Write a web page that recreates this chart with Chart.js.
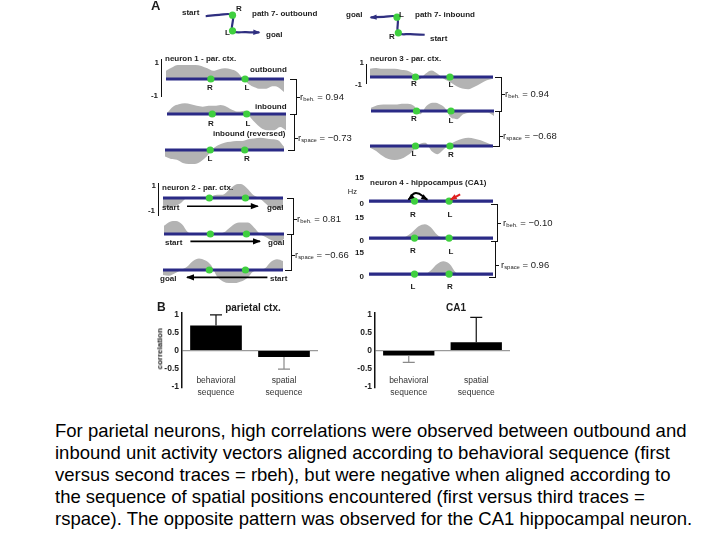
<!DOCTYPE html>
<html>
<head>
<meta charset="utf-8">
<script src="https://cdn.jsdelivr.net/npm/chart.js@4.4.1/dist/chart.umd.min.js"></script>
<style>
  html, body { margin: 0; padding: 0; background: #fff; }
  #fig { position: relative; width: 720px; height: 540px; overflow: hidden; font-family: "Liberation Sans", Arial, sans-serif; }
  #fig canvas { position: absolute; }
  .t { position: absolute; white-space: nowrap; color: #1c1c1c; line-height: 1.2; }
  .t sub { font-size: 0.62em; vertical-align: -0.2em; }
  .ln { position: absolute; }
  #caption { position: absolute; left: 55px; top: 420px; font-size: 18.5px; line-height: 22px; color: #000; white-space: nowrap; }
</style>
</head>
<body>
<div id="fig"></div>
<script>
// position along the track, % of path length
const trackPos = [0, 5, 10, 15, 20, 25, 30, 35, 40, 45, 50, 55, 60, 65, 70, 75, 80, 85, 90, 95, 100];

// neuron 1 - parietal (normalised rate, -1..1)
const n1Outbound = [0.5, 0.7, 0.85, 0.85, 0.85, 0.85, 0.8, 0.65, 0.5, 0.6, 0.65, 0.6, 0.45, 0.05, -0.3, -0.5, -0.6, -0.6, -0.45, -0.5, -0.8];
const n1Inbound  = [0.05, 0.45, 0.6, 0.65, 0.6, 0.5, 0.45, 0.5, 0.5, 0.55, 0.45, 0.25, 0.15, 0.2, -0.2, -0.6, -0.9, -1.0, -1.0, -0.8, -1.0];
const n1Reversed = [-0.4, -0.55, -0.6, -0.8, -0.85, -0.85, -0.7, -0.4, 0.05, 0.3, 0.45, 0.5, 0.55, 0.55, 0.65, 0.7, 0.75, 0.7, 0.65, 0.6, 0.2];
const n1Marks = [38, 67];

// neuron 3 - parietal
const n3Outbound = [0.5, 0.55, 0.5, 0.5, 0.5, 0.45, 0.4, 0.2, -0.15, 0.2, 0.4, 0.2, -0.1, -0.3, -0.55, -0.7, -0.75, -0.6, -0.4, -0.2, -0.1];
const n3Inbound  = [0.2, 0.35, 0.4, 0.4, 0.4, 0.45, 0.45, 0.3, -0.2, 0.3, 0.5, 0.45, 0.2, -0.4, -0.5, -0.2, -0.1, -0.1, -0.1, -0.1, -0.3];
const n3Reversed = [-0.1, -0.3, -0.6, -0.8, -0.85, -0.8, -0.6, -0.3, 0.1, 0.2, -0.3, -0.5, -0.2, 0.1, 0.3, 0.45, 0.5, 0.45, 0.35, 0.2, 0.05];
const n3Marks = [37, 65];

// neuron 2 - parietal
const n2Outbound = [-0.6, -0.6, -0.5, -0.3, 0, 0, 0, 0, 0.1, 0.2, 0.2, 0.5, 0.8, 0.85, 0.6, 0.2, 0, -0.3, -0.6, -0.65, -0.6];
const n2Inbound  = [0.5, 0.75, 0.8, 0.6, 0.1, 0, 0, 0, 0, 0, 0.1, 0.4, 0.65, 0.7, 0.7, 0.4, 0, -0.2, -0.4, -0.5, -0.3];
const n2Reversed = [-0.3, -0.35, -0.2, 0, 0.2, 0.55, 0.7, 0.6, 0.3, -0.4, -0.7, -0.8, -0.8, -0.7, -0.5, -0.1, 0, 0.1, 0.5, 0.65, 0.55];
const n2Marks = [38.6, 68.7];
const n2Arrows = [[20, 79], [22, 80], [87, 20]];

// neuron 4 - hippocampus CA1 (Hz)
const n4Outbound = [0, 0, 0, 0, 0, 0, 0, 0, 0, 0, 0, 0, 0.8, 0, 0, 0, 0, 0, 0, 0, 0];
const n4Inbound  = [0, 0, 0, 0, 0, 0, 1.5, 5.5, 10.5, 12.3, 9.5, 3, 0.3, 0, 0, 0, 0, 0, 0, 0, 0];
const n4Reversed = [0, 0, 0, 0, 0, 0, 0, 0, 0, 0, 3.5, 9, 11.5, 9, 1.5, 0, 0, 0, 0, 0, 0];
const n4Marks = [36.7, 64.6];
const n4LoopX = [31.8, 37.9, 47];
const n4LoopY = [1.3, 7.2, 1.3];
const n4PointerX = [73.5, 65.9];
const n4PointerY = [5.9, 1.3];

// path 7 sketches (grid units)
const outPathX = [0, 0.5, 1, 1, 1.5, 2];
const outPathY = [0.93, 1.02, 1, 0, -0.08, -0.1];
const outNodes = [{ x: 1, y: 1 }, { x: 1, y: 0 }];
const inPathX = [2.05, 1.5, 1.05, 1, 0.5, 0];
const inPathY = [-0.12, -0.08, 0, 1, 1.02, 0.98];
const inNodes = [{ x: 1.05, y: 0 }, { x: 1, y: 1 }];

// panel B
const seqLabels = [['behavioral', 'sequence'], ['spatial', 'sequence']];
const parietalMean = [0.70, -0.18];
const parietalErr = [0.30, 0.34];
const ca1Mean = [-0.14, 0.23];
const ca1Err = [0.19, 0.70];
const corrTicks = [-1, -0.5, 0, 0.5, 1];

Chart.defaults.animation = false;
Chart.defaults.events = [];
Chart.defaults.plugins.legend.display = false;
Chart.defaults.plugins.tooltip.enabled = false;
Chart.defaults.font.family = '"Liberation Sans", Arial, sans-serif';

const fig = document.getElementById('fig');

function addCanvas(left, top, w, h) {
  const c = document.createElement('canvas');
  c.width = w; c.height = h;
  c.style.left = left + 'px'; c.style.top = top + 'px';
  c.style.width = w + 'px'; c.style.height = h + 'px';
  fig.appendChild(c);
  return c;
}

function addText(x, cy, html, o) {
  o = o || {};
  const size = o.size || 8;
  const s = document.createElement('div');
  s.className = 't';
  s.innerHTML = html;
  s.style.fontSize = size + 'px';
  s.style.fontWeight = o.bold === false ? 'normal' : 'bold';
  if (o.color) s.style.color = o.color;
  s.style.top = (cy - size * 0.6) + 'px';
  if (o.align === 'right') { s.style.right = (720 - x) + 'px'; }
  else { s.style.left = x + 'px'; if (o.align === 'center') s.style.transform = 'translateX(-50%)'; }
  if (o.rotate) { s.style.transform = 'translate(-50%,0) rotate(-90deg)'; }
  fig.appendChild(s);
  return s;
}

function addLine(left, top, w, h, color) {
  const d = document.createElement('div');
  d.className = 'ln';
  d.style.left = left + 'px'; d.style.top = top + 'px';
  d.style.width = w + 'px'; d.style.height = h + 'px';
  d.style.background = color || '#111';
  fig.appendChild(d);
}

// arrow heads at the ends of flagged line datasets
const arrowHeads = {
  id: 'arrowHeads',
  afterDatasetsDraw(chart) {
    const ctx = chart.ctx;
    chart.data.datasets.forEach((ds, i) => {
      if (!ds.arrowEnd && !ds.arrowStart) return;
      const pts = chart.getDatasetMeta(i).data;
      const size = ds.arrowSize || 6;
      const head = (tip, from) => {
        const a = Math.atan2(tip.y - from.y, tip.x - from.x);
        const bx = tip.x - size * Math.cos(a), by = tip.y - size * Math.sin(a);
        const w = size * 0.45;
        ctx.save();
        ctx.fillStyle = ds.borderColor;
        ctx.beginPath();
        ctx.moveTo(tip.x + Math.cos(a), tip.y + Math.sin(a));
        ctx.lineTo(bx + w * Math.sin(a), by - w * Math.cos(a));
        ctx.lineTo(bx - w * Math.sin(a), by + w * Math.cos(a));
        ctx.closePath();
        ctx.fill();
        ctx.restore();
      };
      const n = pts.length;
      if (ds.arrowEnd) {
        const p = pts[n - 1];
        const usable = typeof p.cp1x === 'number' && (Math.abs(p.cp1x - p.x) + Math.abs(p.cp1y - p.y) > 0.5);
        head(p, usable ? { x: p.cp1x, y: p.cp1y } : pts[n - 2]);
      }
      if (ds.arrowStart) {
        const p = pts[0];
        const usable = typeof p.cp2x === 'number' && (Math.abs(p.cp2x - p.x) + Math.abs(p.cp2y - p.y) > 0.5);
        head(p, usable ? { x: p.cp2x, y: p.cp2y } : pts[1]);
      }
    });
  }
};

function toPoints(xs, ys) { return xs.map((x, i) => ({ x: x, y: ys[i] })); }

function traceChart(left, baseline, width, values, marks, hz, extras) {
  const above = hz ? 26 : 22, h = hz ? 30 : 44;
  const yMin = hz ? -2.6 : -1.1, yMax = hz ? 17 : 1.1;
  const datasets = (extras || []).slice();
  datasets.push({
    type: 'scatter', data: marks.map(m => ({ x: m, y: 0 })), pointRadius: 3.6,
    pointBackgroundColor: '#3fcf3f', pointBorderWidth: 0, showLine: false, order: 1, clip: false
  });
  datasets.push({
    data: [{ x: 0, y: 0 }, { x: 100, y: 0 }], borderColor: '#2a2a86', borderWidth: 3.2, pointRadius: 0, order: 2
  });
  datasets.push({
    data: toPoints(trackPos, values), borderWidth: 0, borderColor: 'rgba(0,0,0,0)', backgroundColor: '#b3b3b3',
    fill: 'origin', pointRadius: 0, cubicInterpolationMode: 'monotone', order: 3
  });
  new Chart(addCanvas(left, baseline - above, width, h), {
    type: 'line',
    data: { datasets: datasets },
    options: {
      responsive: false,
      layout: { padding: 0 },
      scales: {
        x: { type: 'linear', min: 0, max: 100, display: false },
        y: { min: yMin, max: yMax, display: false }
      }
    },
    plugins: [arrowHeads]
  });
}

function arrowSet(xs, ys, color, extra) {
  return Object.assign({
    data: toPoints(xs, ys), borderColor: color, borderWidth: 1.6, pointRadius: 0,
    arrowEnd: true, arrowSize: 7, order: 0, clip: false
  }, extra || {});
}

// ---------- panel A: traces ----------
traceChart(162, 79, 126, n1Outbound, n1Marks);
traceChart(163, 114, 127, n1Inbound, n1Marks);
traceChart(161, 150, 127, n1Reversed, n1Marks);

traceChart(366, 77, 131, n3Outbound, n3Marks);
traceChart(367, 111, 131, n3Inbound, n3Marks);
traceChart(366, 146, 131, n3Reversed, n3Marks);

traceChart(159, 198, 128, n2Outbound, n2Marks, false, [arrowSet(n2Arrows[0], [-0.5, -0.5], '#000')]);
traceChart(160, 234, 128, n2Inbound, n2Marks, false, [arrowSet(n2Arrows[1], [-0.45, -0.45], '#000')]);
traceChart(159, 270, 128, n2Reversed, n2Marks, false, [arrowSet(n2Arrows[2], [-0.45, -0.45], '#000')]);

traceChart(365, 204, 132, n4Outbound, n4Marks, true, [
  arrowSet(n4LoopX, n4LoopY, '#000', { tension: 0.5, arrowStart: true, arrowSize: 6, borderWidth: 1.8 }),
  arrowSet(n4PointerX, n4PointerY, '#e02020', { arrowSize: 6, borderWidth: 2 })
]);
traceChart(365, 241, 132, n4Inbound, n4Marks, true);
traceChart(365, 277, 132, n4Reversed, n4Marks, true);

// ---------- panel A: path sketches ----------
function pathChart(left, top, w, h, xs, ys, nodes) {
  new Chart(addCanvas(left, top, w, h), {
    type: 'line',
    data: {
      datasets: [
        { type: 'scatter', data: nodes, pointRadius: 3.6, pointBackgroundColor: '#3fcf3f', pointBorderWidth: 0, order: 0, clip: false },
        { data: toPoints(xs, ys), borderColor: '#2f2f80', borderWidth: 2.2, pointRadius: 0, tension: 0.35,
          arrowEnd: true, arrowSize: 6, order: 1, clip: false }
      ]
    },
    options: {
      responsive: false,
      layout: { padding: 0 },
      scales: {
        x: { type: 'linear', min: -0.1, max: 2.1, display: false },
        y: { min: -0.2, max: 1.2, display: false }
      }
    },
    plugins: [arrowHeads]
  });
}
pathChart(199, 8, 67, 30, outPathX, outPathY, outNodes);
pathChart(364, 10, 66, 30, inPathX, inPathY, inNodes);

// ---------- panel B: bar charts ----------
const errorBars = {
  id: 'errorBars',
  afterDatasetsDraw(chart) {
    const ctx = chart.ctx, ys = chart.scales.y;
    const ds = chart.data.datasets[0];
    chart.getDatasetMeta(0).data.forEach((bar, i) => {
      const v = ds.data[i], e = ds.errors[i];
      const end = v >= 0 ? v + e : v - e;
      const y0 = ys.getPixelForValue(v), y1 = ys.getPixelForValue(end);
      ctx.save();
      ctx.strokeStyle = v >= 0 ? '#111' : '#8a8a8a';
      ctx.lineWidth = 1.2;
      ctx.beginPath();
      ctx.moveTo(bar.x, y0); ctx.lineTo(bar.x, y1);
      ctx.moveTo(bar.x - 6, y1); ctx.lineTo(bar.x + 6, y1);
      ctx.stroke();
      ctx.restore();
    });
  }
};

// category names sit inside the plot, around the -1 level
const seqNames = {
  id: 'seqNames',
  afterDraw(chart) {
    const ctx = chart.ctx, xs = chart.scales.x, ys = chart.scales.y;
    const yRef = ys.getPixelForValue(-1);
    ctx.save();
    ctx.fillStyle = '#333';
    ctx.font = '8.5px "Liberation Sans", Arial, sans-serif';
    ctx.textAlign = 'center';
    ctx.textBaseline = 'middle';
    chart.data.labels.forEach((lines, i) => {
      const x = xs.getPixelForValue(i);
      lines.forEach((txt, k) => ctx.fillText(txt, x, yRef - 6 + 12 * k));
    });
    ctx.restore();
  }
};

function corrChart(left, width, means, errs) {
  new Chart(addCanvas(left, 303, width, 97), {
    type: 'bar',
    data: {
      labels: seqLabels,
      datasets: [{ data: means, errors: errs, backgroundColor: '#000', barPercentage: 0.76, categoryPercentage: 1 }]
    },
    options: {
      responsive: false,
      layout: { padding: { top: 10, bottom: 8, right: 0, left: 0 } },
      scales: {
        x: {
          grid: { display: false }, border: { display: false },
          ticks: { display: false },
          afterFit: s => { s.height = 4; }
        },
        y: {
          min: -1.05, max: 1.05,
          afterBuildTicks: s => { s.ticks = corrTicks.map(v => ({ value: v })); },
          ticks: { color: '#222', padding: 3, font: { size: 8.5, weight: 'bold' }, callback: v => String(v) },
          grid: { drawTicks: false, color: c => (c.tick && c.tick.value === 0) ? '#9a9a9a' : 'rgba(0,0,0,0)', lineWidth: 1.2 },
          border: { display: true, color: '#111', width: 1.5 },
          afterFit: s => { s.width = 32; }
        }
      }
    },
    plugins: [errorBars, seqNames]
  });
}
corrChart(150, 168, parietalMean, parietalErr);
corrChart(343, 167, ca1Mean, ca1Err);

// ---------- text & decorations ----------
addText(151, 6, 'A', { size: 13 });
addText(182, 13, 'start'); addText(236, 9, 'R'); addText(225, 33, 'L'); addText(266, 35, 'goal');
addText(252, 14, 'path 7- outbound');
addText(346, 15, 'goal'); addText(399, 15, 'L'); addText(389, 37, 'R'); addText(430, 39, 'start');
addText(415, 15, 'path 7- inbound');

// neuron 1
addLine(160.5, 59, 1.6, 38);
addText(159, 63, '1', { align: 'right' }); addText(158, 96, '-1', { align: 'right' });
addText(165, 59, 'neuron 1 - par. ctx.');
addText(250, 70, 'outbound'); addText(255, 107, 'inbound'); addText(213, 134, 'inbound (reversed)');
addText(210, 88, 'R', { align: 'center' }); addText(247, 88, 'L', { align: 'center' });
addText(211, 124, 'R', { align: 'center' }); addText(248, 124, 'L', { align: 'center' });
addText(210, 159, 'L', { align: 'center' }); addText(247, 159, 'R', { align: 'center' });

// neuron 3
addLine(365.5, 64, 1.6, 20);
addText(364, 63, '1', { align: 'right' }); addText(362, 85, '-1', { align: 'right' });
addText(370, 59, 'neuron 3 - par. ctx.');
addText(414, 84, 'R', { align: 'center' }); addText(451, 85, 'L', { align: 'center' });
addText(414, 119, 'R', { align: 'center' }); addText(451, 121, 'L', { align: 'center' });
addText(414, 154, 'L', { align: 'center' }); addText(451, 155, 'R', { align: 'center' });

// neuron 2
addLine(157.5, 183, 1.6, 33);
addText(156, 186, '1', { align: 'right' }); addText(155, 211, '-1', { align: 'right' });
addText(162, 188, 'neuron 2 - par. ctx.');
addText(162, 208, 'start'); addText(267, 208, 'goal');
addText(165, 243, 'start'); addText(268, 243, 'goal');
addText(160, 279, 'goal'); addText(270, 279, 'start');

// neuron 4
addText(364, 178, '15', { align: 'right' }); addText(357, 191, 'Hz', { align: 'right', bold: false, size: 7.5 });
addText(364, 204, '0', { align: 'right' });
addText(364, 218, '15', { align: 'right' }); addText(364, 241, '0', { align: 'right' });
addText(364, 253, '15', { align: 'right' }); addText(364, 277, '0', { align: 'right' });
addText(370, 183, 'neuron 4 - hippocampus (CA1)');
addText(413, 215, 'R', { align: 'center' }); addText(450, 215, 'L', { align: 'center' });
addText(413, 251, 'R', { align: 'center' }); addText(451, 252, 'L', { align: 'center' });
addText(413, 287, 'L', { align: 'center' }); addText(450, 287, 'R', { align: 'center' });

// brackets and correlation values
function bracket(x, y1, y2, y3, rb, rs, lbx, lby1, lby2) {
  addLine(x - 6, y1, 6, 1.3); addLine(x, y1, 1.4, y2 - y1 + 1);
  addLine(x - 6, y2, 6, 1.3);
  addLine(x - 2, y2, 1.4, y3 - y2); addLine(x - 8, y3, 7, 1.3);
  addLine(x + 1, lby1, 3, 1.2); addLine(x - 1, lby2, 3, 1.2);
  addText(lbx, lby1, 'r<sub>beh.</sub> = ' + rb, { bold: false, size: 9.5 });
  addText(lbx - 2, lby2, 'r<sub>space</sub> = ' + rs, { bold: false, size: 9.5 });
}
bracket(296, 79, 114, 150, '0.94', '\u22120.73', 300, 97, 138);
bracket(501, 77, 111, 146, '0.94', '\u22120.68', 505, 94, 136);
bracket(293, 198, 234, 270, '0.81', '\u22120.66', 297, 219, 255);
bracket(497, 204, 241, 277, '\u22120.10', '0.96', 503, 223, 265);

// panel B labels
addText(157, 307, 'B', { size: 12 });
addText(253, 308, 'parietal ctx.', { size: 10, align: 'center' });
addText(456, 308, 'CA1', { size: 10, align: 'center' });
addText(160, 349, 'correlation', { size: 8, rotate: true });

// caption
const cap = document.createElement('div');
cap.id = 'caption';
cap.innerHTML = 'For parietal neurons, high correlations were observed between outbound and<br>' +
  'inbound unit activity vectors aligned according to behavioral sequence (first<br>' +
  'versus second traces = rbeh), but were negative when aligned according to<br>' +
  'the sequence of spatial positions encountered (first versus third traces =<br>' +
  'rspace). The opposite pattern was observed for the CA1 hippocampal neuron.';
fig.appendChild(cap);
</script>
</body>
</html>
